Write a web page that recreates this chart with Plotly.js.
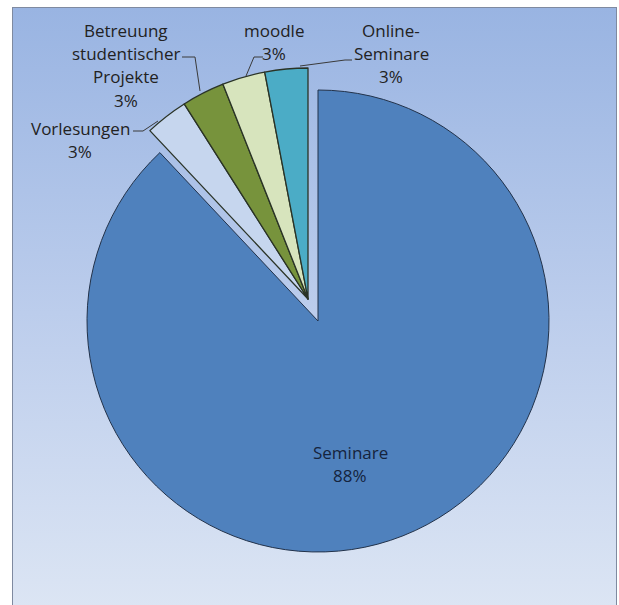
<!DOCTYPE html>
<html>
<head>
<meta charset="utf-8">
<script src="https://cdn.plot.ly/plotly-3.0.1.min.js"></script>
<style>
  html, body { margin: 0; padding: 0; background: #ffffff; width: 619px; height: 605px; overflow: hidden; }
  #bg { position: absolute; left: 12px; top: 7px; width: 603px; height: 610px;
        border: 1.5px solid #7f8aa0; background: linear-gradient(to bottom, #99b4e2 0%, #bccdec 50%, #dde6f4 100%); }
  #chart { position: absolute; left: 0; top: 0; width: 619px; height: 605px; }
</style>
</head>
<body>
<div id="bg"></div>
<div id="chart"></div>
<script>
// ---- data ----
const categories = ['Seminare', 'Vorlesungen', 'Betreuung studentischer Projekte', 'moodle', 'Online-Seminare'];
const values = [88, 3, 3, 3, 3];
const labelLines = [['Seminare'], ['Vorlesungen'], ['Betreuung', 'studentischer', 'Projekte'], ['moodle'], ['Online-', 'Seminare']];
const sliceColors = ['#4f81bd', '#c6d6ee', '#77933c', '#d7e4bd', '#4bacc6'];

// ---- layout helpers ----
const W = 619, H = 605;
const px = x => x / W;
const py = y => 1 - y / H;
const clear = 'rgba(0,0,0,0)';
const cx = 318, cy = 321, R = 231;
const offX = -10, offY = -22;   // displacement of the small-slice group

const mainColors = sliceColors.map((c, i) => i === 0 ? c : clear);
const mainLineC = sliceColors.map((c, i) => i === 0 ? '#22324a' : clear);
const mainLineW = sliceColors.map((c, i) => i === 0 ? 1 : 0);
const smallColors = sliceColors.map((c, i) => i === 0 ? clear : c);
const smallLineC = sliceColors.map((c, i) => i === 0 ? clear : '#2a3326');
const smallLineW = sliceColors.map((c, i) => i === 0 ? 0 : 1.3);

const base = {
  type: 'pie', labels: categories, values: values, sort: false,
  direction: 'clockwise', rotation: 0, textinfo: 'none', hoverinfo: 'label+percent',
  showlegend: false
};
const traceMain = Object.assign({}, base, {
  marker: { colors: mainColors, line: { color: mainLineC, width: mainLineW } },
  domain: { x: [px(cx - R), px(cx + R)], y: [py(cy + R), py(cy - R)] }
});
const traceSmall = Object.assign({}, base, {
  marker: { colors: smallColors, line: { color: smallLineC, width: smallLineW } },
  domain: { x: [px(cx + offX - R), px(cx + offX + R)], y: [py(cy + offY + R), py(cy + offY - R)] }
});

// label anchor (centre of first line) in pixels
const labelPos = [[350, 452], [80, 128], [126, 30], [274, 30], [391, 30]];
const lineStep = 23.5;
const total = values.reduce((a, b) => a + b, 0);
const annotations = [];
categories.forEach((c, i) => {
  const lines = labelLines[i].concat([Math.round(values[i] / total * 100) + '%']);
  lines.forEach((t, k) => {
    annotations.push({
      xref: 'paper', yref: 'paper', x: px(labelPos[i][0]), y: py(labelPos[i][1] + k * lineStep),
      xanchor: 'center', yanchor: 'middle', showarrow: false, text: t,
      font: { family: '"Open Sans", "Noto Sans", sans-serif', size: 17, color: i === 0 ? '#15243d' : '#222222' }
    });
  });
});

const leader = d => ({ type: 'path', xref: 'paper', yref: 'paper', path: d,
  line: { color: '#3a3a3a', width: 1 } });
const P = (x, y) => px(x) + ',' + py(y);
const shapes = [
  leader('M' + P(133, 131) + ' L' + P(143, 131) + ' L' + P(158, 121)),
  leader('M' + P(182, 57) + ' L' + P(195, 57) + ' L' + P(200, 91)),
  leader('M' + P(263, 57) + ' L' + P(254, 57) + ' L' + P(246, 76)),
  leader('M' + P(352, 60) + ' L' + P(345, 60) + ' L' + P(300, 66))
];

const layout = {
  width: W, height: H,
  margin: { l: 0, r: 0, t: 0, b: 0 },
  paper_bgcolor: clear, plot_bgcolor: clear,
  showlegend: false,
  annotations: annotations,
  shapes: shapes
};

Plotly.newPlot('chart', [traceMain, traceSmall], layout, { displayModeBar: false, staticPlot: true });
</script>
</body>
</html>
